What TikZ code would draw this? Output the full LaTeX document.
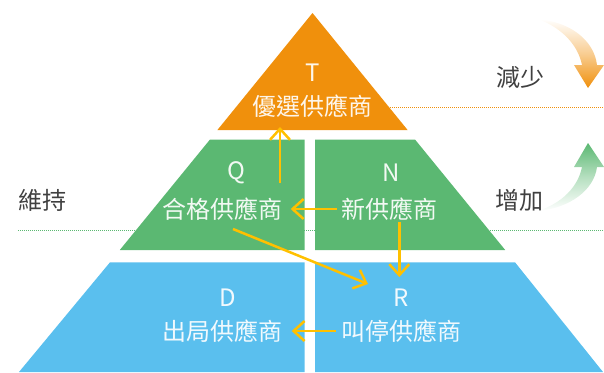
\documentclass[tikz,border=0pt]{standalone}
\usepackage{fontspec}
\newfontfamily\cjk{Noto Sans CJK TC}
\usetikzlibrary{arrows.meta}
\definecolor{cOrange}{HTML}{F0900C}
\definecolor{cGreen}{HTML}{5BB872}
\definecolor{cBlue}{HTML}{5ABFEE}
\definecolor{cYellow}{HTML}{FFC000}
\definecolor{cText}{HTML}{404040}
\begin{document}
\begin{tikzpicture}[x=1pt,y=-1pt,
  lbl/.style={font=\cjk\fontsize{24}{28}\selectfont, text=white, text opacity=0.92, inner sep=0pt, anchor=center},
  side/.style={font=\cjk\fontsize{24}{28}\selectfont, text=cText, inner sep=0pt, anchor=center},
  flow/.style={draw=cYellow, line width=2.5pt, -{Straight Barb[length=11pt,width=20pt]}},
  guide/.style={line width=1pt, dash pattern=on 1pt off 1pt}
]
\useasboundingbox (0,0) rectangle (604,372);
% guide lines
\draw[guide, draw=cOrange] (380,107) -- (604,107);
\draw[guide, draw=cGreen] (18,230) -- (604,230);
% pyramid
\fill[cOrange] (312.5,13) -- (407.6,130) -- (217.4,130) -- cycle;
\fill[cGreen] (210,139.5) -- (304.5,139.5) -- (304.5,250) -- (119.8,250) -- cycle;
\fill[cGreen] (315,139.5) -- (415,139.5) -- (505.2,250) -- (315,250) -- cycle;
\fill[cBlue] (110,262.3) -- (304.5,262.3) -- (304.5,372) -- (19,372) -- cycle;
\fill[cBlue] (315,262.3) -- (515,262.3) -- (603,372) -- (315,372) -- cycle;
% curved arrows
\shade[top color=white, bottom color=cOrange, middle color=cOrange!45]
  (538,19) .. controls (570,22) and (594,40) .. (597,65) -- (604,65) -- (588,88) -- (574,65) -- (582,65)
  .. controls (578,45) and (562,28) .. (538,19) -- cycle;
\shade[top color=cGreen, bottom color=white, middle color=cGreen!45]
  (538,211) .. controls (570,208) and (594,190) .. (597,167) -- (604,167) -- (588,143) -- (574,167) -- (582,167)
  .. controls (578,187) and (562,203) .. (538,211) -- cycle;
% labels
\node[lbl] (Tl) at (312.5,73) {T};
\node[lbl] (Tn) at (312.5,106) {優選供應商};
\node[lbl] (Ql) at (236.7,173) {Q};
\node[lbl] (Qn) at (222.5,209) {合格供應商};
\node[lbl] (Nl) at (390.7,173) {N};
\node[lbl] (Nn) at (389,209) {新供應商};
\node[lbl] (Dl) at (227.3,298) {D};
\node[lbl] (Dn) at (222.5,331) {出局供應商};
\node[lbl] (Rl) at (400.7,298) {R};
\node[lbl] (Rn) at (401.5,331) {叫停供應商};
\node[side] (dec) at (520,77) {減少};
\node[side] (inc) at (519,200) {增加};
\node[side] (keep) at (42,200) {維持};
% connector endpoints
\coordinate (q1) at (280,183);   \coordinate (t1) at (280,127);
\coordinate (n1) at (336.7,209); \coordinate (q2) at (290.7,209);
\coordinate (n2) at (399.3,222); \coordinate (r1) at (399.3,277);
\coordinate (q3) at (233,229);   \coordinate (r2) at (368,284);
\coordinate (r3) at (336,331);   \coordinate (d1) at (291.7,331);
\draw[flow] (q1) -- (t1);
\draw[flow] (n1) -- (q2);
\draw[flow] (n2) -- (r1);
\draw[flow] (q3) -- (r2);
\draw[flow] (r3) -- (d1);
\end{tikzpicture}
\end{document}
